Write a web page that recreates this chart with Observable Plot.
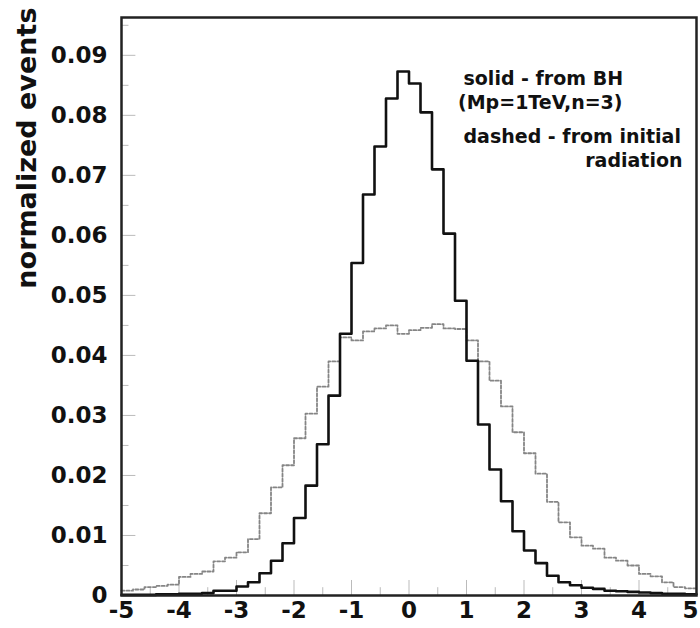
<!DOCTYPE html>
<html><head><meta charset="utf-8">
<script src="https://cdn.jsdelivr.net/npm/d3@7"></script>
<script src="https://cdn.jsdelivr.net/npm/@observablehq/plot@0.6"></script>
<style>body{margin:0;background:#fff}</style>
</head><body><div id="chart"></div>
<script>
// bin left edges (width 0.2)
const binStart = [-5.0,-4.8,-4.6,-4.4,-4.2,-4.0,-3.8,-3.6,-3.4,-3.2,
                  -3.0,-2.8,-2.6,-2.4,-2.2,-2.0,-1.8,-1.6,-1.4,-1.2,
                  -1.0,-0.8,-0.6,-0.4,-0.2, 0.0, 0.2, 0.4, 0.6, 0.8,
                   1.0, 1.2, 1.4, 1.6, 1.8, 2.0, 2.2, 2.4, 2.6, 2.8,
                   3.0, 3.2, 3.4, 3.6, 3.8, 4.0, 4.2, 4.4, 4.6, 4.8];
const binWidth = 0.2;
// solid - from BH
const fromBH = [0.0001,0.0001,0.0001,0.0002,0.0002,0.0003,0.0003,0.0004,0.0008,0.0008,
                0.0015,0.0022,0.0037,0.0058,0.0087,0.0129,0.0183,0.0252,0.0333,0.0436,
                0.0554,0.0668,0.0748,0.0828,0.0873,0.0853,0.0805,0.0710,0.0603,0.0491,
                0.0391,0.0285,0.0210,0.0157,0.0107,0.0075,0.0054,0.0033,0.0022,0.0017,
                0.0013,0.0011,0.0008,0.0007,0.0006,0.0005,0.0004,0.0003,0.0003,0.0002];
// dashed - from initial radiation
const fromInitial = [0.0008,0.0010,0.0014,0.0016,0.0018,0.0031,0.0036,0.0040,0.0057,0.0063,
                     0.0072,0.0094,0.0137,0.0180,0.0217,0.0262,0.0303,0.0348,0.0390,0.0430,
                     0.0425,0.0440,0.0445,0.0450,0.0436,0.0442,0.0446,0.0452,0.0445,0.0444,
                     0.0425,0.0390,0.0358,0.0315,0.0272,0.0237,0.0203,0.0156,0.0122,0.0097,
                     0.0083,0.0078,0.0063,0.0058,0.0050,0.0036,0.0032,0.0022,0.0014,0.0012];
const xTicks = [-5,-4,-3,-2,-1,0,1,2,3,4,5];
const xTickLast = [5];
const yTicks = [0,0.01,0.02,0.03,0.04,0.05,0.06,0.07,0.08,0.09];
const xMinor = [-4.5,-3.5,-2.5,-1.5,-0.5,0.5,1.5,2.5,3.5,4.5];
const yMinor = [0.005,0.015,0.025,0.035,0.045,0.055,0.065,0.075,0.085,0.095];
const yTitle = "normalized events";
const legendA = ["solid - from BH", "dashed - from initial"];
const legendB = ["(Mp=1TeV,n=3)", "radiation"];

function steps(vals) {
  const pts = binStart.map((x, i) => ({x, y: vals[i]}));
  pts.push({x: binStart[binStart.length - 1] + binWidth, y: vals[vals.length - 1]});
  return pts;
}

const font = "'DejaVu Sans', sans-serif";
const chart = Plot.plot({
  width: 700, height: 628,
  marginLeft: 121, marginRight: 4, marginTop: 17, marginBottom: 33,
  style: {fontFamily: font, background: "#fff", color: "#111", fontWeight: "bold"},
  x: {domain: [-5, 5]},
  y: {domain: [0, 0.0963]},
  marks: [
    Plot.ruleX(xTicks, {y1: 0, y2: 0.0025, stroke: "#bbb", strokeWidth: 1}),
    Plot.ruleX(xMinor, {y1: 0, y2: 0.0013, stroke: "#bbb", strokeWidth: 1}),
    Plot.ruleY(yTicks, {x1: -5, x2: -4.75, stroke: "#bbb", strokeWidth: 1}),
    Plot.ruleY(yMinor, {x1: -5, x2: -4.87, stroke: "#bbb", strokeWidth: 1}),
    Plot.line(steps(fromInitial), {x: "x", y: "y", curve: "step-after", stroke: "#858585", strokeWidth: 1.8, strokeDasharray: "3,2"}),
    Plot.line(steps(fromBH), {x: "x", y: "y", curve: "step-after", stroke: "#111", strokeWidth: 2.6}),
    Plot.frame({stroke: "#222", strokeWidth: 2.5}),
    Plot.axisY({ticks: yTicks, tickSize: 0, tickPadding: 14, tickFormat: d => d === 0 ? "0" : d.toFixed(2), fontSize: 23, label: null}),
    Plot.axisX({ticks: xTicks.filter(d => d < 5), tickSize: 0, tickPadding: 6, tickFormat: d => String(d), fontSize: 23, label: null}),
    Plot.axisX({ticks: xTickLast, tickSize: 0, tickPadding: 6, tickFormat: d => String(d), fontSize: 23, label: null, dx: -6}),
    Plot.text([yTitle], {frameAnchor: "top-left", rotate: -90, textAnchor: "end", lineAnchor: "middle", dx: -94, dy: -10, fontSize: 27, fill: "#111"}),
    Plot.text([legendA[0]], {frameAnchor: "top-left", textAnchor: "start", lineAnchor: "bottom", dx: 342, dy: 67, fontSize: 19, fill: "#111"}),
    Plot.text([legendB[0]], {frameAnchor: "top-right", textAnchor: "end", lineAnchor: "bottom", dx: -74, dy: 91, fontSize: 19, fill: "#111"}),
    Plot.text([legendA[1]], {frameAnchor: "top-left", textAnchor: "start", lineAnchor: "bottom", dx: 342, dy: 125, fontSize: 19, fill: "#111"}),
    Plot.text([legendB[1]], {frameAnchor: "top-right", textAnchor: "end", lineAnchor: "bottom", dx: -14, dy: 149, fontSize: 19, fill: "#111"})
  ]
});
document.getElementById("chart").append(chart);
</script>
</body></html>
